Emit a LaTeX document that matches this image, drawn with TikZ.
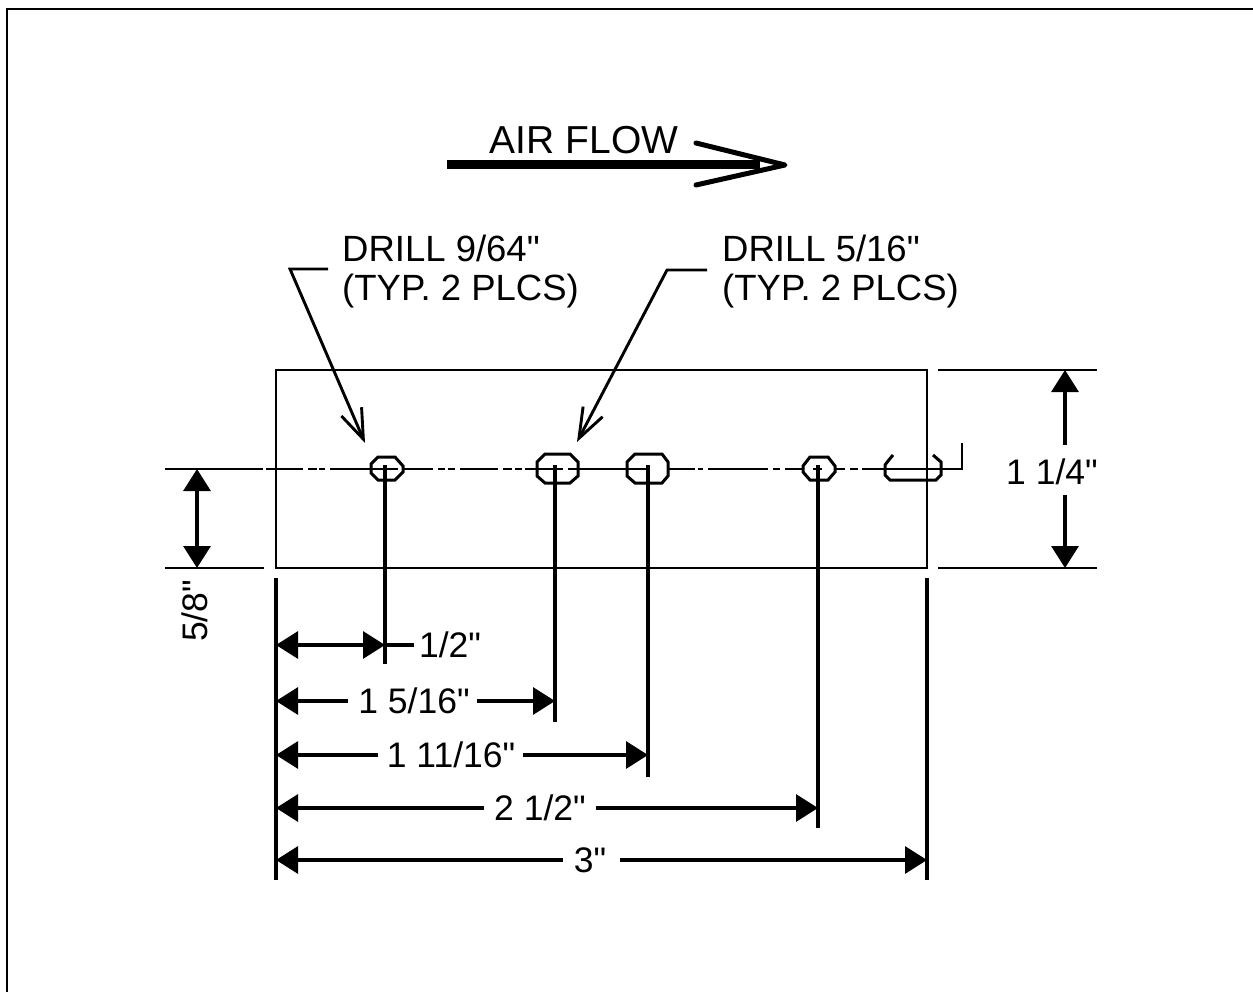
\documentclass[tikz,border=0pt]{standalone}
\usepackage{fontspec}
\setmainfont{Liberation Sans}[Ligatures=TeXOff]
\usetikzlibrary{arrows.meta}
\tikzset{
  ln/.style={line width=3.2pt,line cap=butt,line join=miter,black},
  thinln/.style={ln,line width=2.7pt},
  dim/.style={ln,-{Triangle[length=22pt,width=27pt]}},
  lead/.style={ln,line width=2.9pt,-{Straight Barb[length=30pt,width=22pt,line width=2.9pt]}},
  lab/.style={inner sep=0pt,font=\fontsize{35.5}{39}\selectfont,text height=25pt,text depth=0pt},
  note/.style={inner sep=0pt,font=\fontsize{36.5}{39}\selectfont,align=left,anchor=north west},
  holeshape/.style={ln,line width=3pt}
}
\begin{document}
\begin{tikzpicture}[x=1pt,y=-1pt]
\useasboundingbox (0,0) rectangle (1253,992);
\fill[white] (0,0) rectangle (1253,992);
% frame
\draw[line width=2pt] (7,992) -- (7,9) -- (1253,9);
% air flow
\node[lab,anchor=center,font=\fontsize{39}{39}\selectfont] (air) at (584,141) {AIR FLOW};
\coordinate (afs) at (447,165);
\coordinate (aft) at (785,165);
\coordinate (afa) at (696,143);
\coordinate (afb) at (696,185);
\draw[line width=9pt] (afs) -- (760,165);
\draw[line width=5pt,line join=round,line cap=round] (afa) -- (aft) -- (afb);
% notes
\node[note] (n1) at (342,235) {DRILL 9/64"\\(TYP. 2 PLCS)};
\node[note] (n2) at (722,235) {DRILL 5/16"\\(TYP. 2 PLCS)};
\coordinate (l1a) at (328,269);
\coordinate (l1b) at (290,269);
\coordinate (l1t) at (365,443);
\coordinate (l2a) at (707,270);
\coordinate (l2b) at (667,270);
\coordinate (l2t) at (577,442);
\draw[lead] (l1a) -- (l1b) -- (l1t);
\draw[lead] (l2a) -- (l2b) -- (l2t);
% plate
\coordinate (tl) at (276,370);
\coordinate (tr) at (927,370);
\coordinate (bl) at (276,568);
\coordinate (br) at (927,568);
\draw[thinln] (tl) -- (tr) -- (br) -- (bl) -- cycle;
\draw[ln] (276,578) -- (276,880);
\draw[ln] (927,578) -- (927,880);
% extension lines
\draw[thinln] (165,568) -- (264,568);
\draw[thinln] (938,370) -- (1097,370);
\draw[thinln] (938,568) -- (1097,568);
% centre line
\foreach \a/\b in {165/263,266/303,308/317,319/325,330/398,403/433,438/445,448/455,460/498,503/512,515/522,525/563,568/647,668/695,698/703,708/768,773/780,785/803,813/822,835/845,850/858,862/885}
  \draw[thinln] (\a,469) -- (\b,469);
\draw[thinln] (885,469) -- (962,469) -- (962,443);
% holes
\draw[holeshape] (378,457) -- (395,457) -- (403,466) -- (403,472) -- (395,480) -- (378,480) -- (371,473) -- (371,464) -- cycle;
\draw[holeshape] (545,454) -- (570,454) -- (578,462) -- (578,476) -- (570,483) -- (545,483) -- (537,476) -- (537,462) -- cycle;
\draw[holeshape] (635,454) -- (662,454) -- (668,462) -- (668,476) -- (662,483) -- (635,483) -- (627,476) -- (627,462) -- cycle;
\draw[holeshape] (810,457) -- (828,457) -- (835,466) -- (835,472) -- (828,480) -- (810,480) -- (803,472) -- (803,466) -- cycle;
\draw[holeshape] (893,455) -- (888,461) -- (885,465) -- (885,475) -- (890,480) -- (936,480) -- (941,475) -- (941,462) -- (933,455);
% drop lines
\draw[ln] (385,465) -- (385,664);
\draw[ln] (555,465) -- (555,722);
\draw[ln] (648,465) -- (648,777);
\draw[ln] (818,465) -- (818,828);
% 5/8 dim
\coordinate (a1) at (197,469);
\coordinate (a2) at (197,568);
\draw[dim,{Triangle[length=22pt,width=27pt]}-{Triangle[length=22pt,width=27pt]}] (a1) -- (a2);
\node[lab,rotate=90,anchor=center] (t58) at (195,611) {5/8"};
% 1 1/4 dim
\node[lab,anchor=center] (t114) at (1052,472) {1 1/4"};
\coordinate (b1) at (1065,370);
\coordinate (b2) at (1065,568);
\coordinate (b1s) at (1065,445);
\coordinate (b2s) at (1065,495);
\draw[dim] (b1s) -- (b1);
\draw[dim] (b2s) -- (b2);
% horizontal dims
\coordinate (r1l) at (276,645);
\coordinate (r1r) at (385,645);
\coordinate (r1e) at (414,645);
\draw[dim,{Triangle[length=22pt,width=27pt]}-{Triangle[length=22pt,width=27pt]}] (r1l) -- (r1r);
\draw[ln] (r1r) -- (r1e);
\node[lab,anchor=center] (t12) at (450,645) {1/2"};
\foreach \nm/\txt/\cx/\rowy/\xr/\xa/\xb in {t2/1 5\slash 16"/414/701/555/348/477,t3/1 11\slash 16"/451/755/648/378/523,t4/2 1\slash 2"/540/808/818/484/596,t5/3"/590/860/927/563/620}{
  \node[lab,anchor=center] (\nm) at (\cx,\rowy) {\txt};
  \coordinate (\nm l) at (276,\rowy);
  \coordinate (\nm r) at (\xr,\rowy);
  \coordinate (\nm a) at (\xa,\rowy);
  \coordinate (\nm b) at (\xb,\rowy);
  \draw[dim] (\nm a) -- (\nm l);
  \draw[dim] (\nm b) -- (\nm r);
}
\end{tikzpicture}
\end{document}
